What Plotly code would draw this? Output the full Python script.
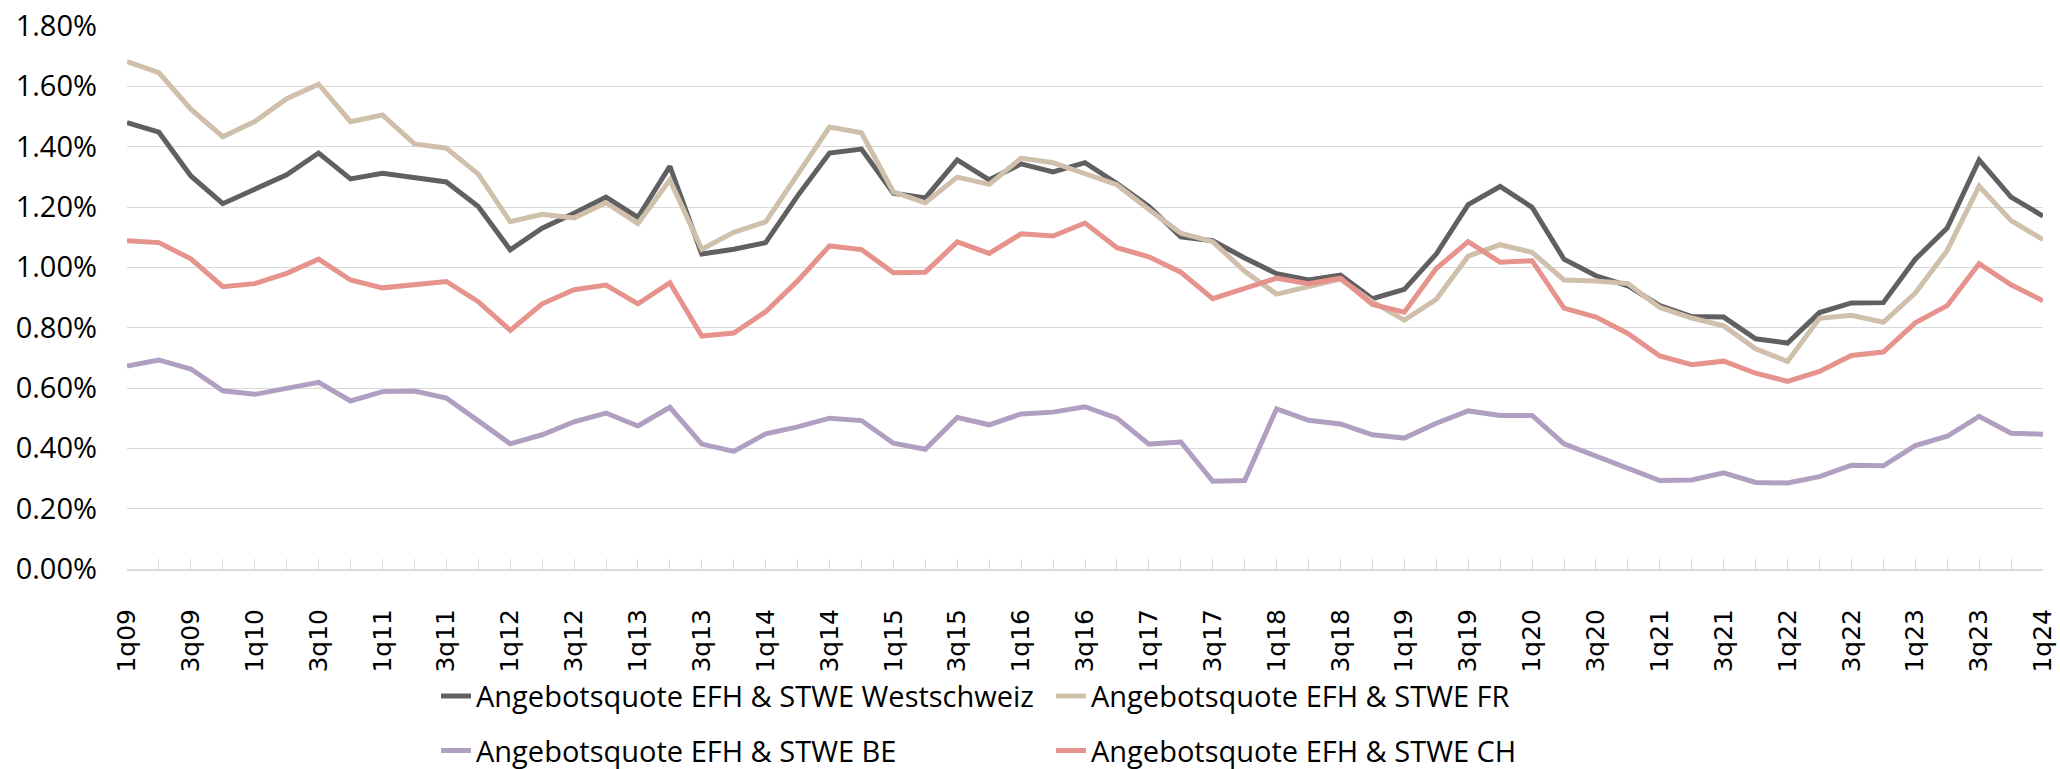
import plotly.graph_objects as go

quarters = []
for yr in range(9, 25):
    for q in range(1, 5):
        if yr == 24 and q > 1:
            break
        quarters.append(f"{q}q{yr:02d}")

tick_labels = [lab if lab[0] in "13" else "" for lab in quarters]

westschweiz = [1.480, 1.448, 1.303, 1.211, 1.259, 1.307, 1.379, 1.293, 1.312, 1.297,
               1.283, 1.202, 1.058, 1.130, 1.179, 1.233, 1.166, 1.335, 1.044, 1.060,
               1.082, 1.237, 1.379, 1.392, 1.246, 1.230, 1.356, 1.290, 1.343, 1.316,
               1.347, 1.278, 1.202, 1.101, 1.088, 1.031, 0.979, 0.958, 0.974, 0.896,
               0.927, 1.044, 1.208, 1.268, 1.199, 1.027, 0.972, 0.939, 0.873, 0.837,
               0.835, 0.763, 0.749, 0.850, 0.882, 0.883, 1.027, 1.130, 1.356, 1.233,
               1.170]

fr = [1.682, 1.645, 1.524, 1.433, 1.483, 1.559, 1.607, 1.483, 1.505, 1.409,
      1.395, 1.309, 1.151, 1.176, 1.164, 1.214, 1.145, 1.290, 1.060, 1.116,
      1.151, 1.306, 1.465, 1.446, 1.250, 1.214, 1.299, 1.275, 1.362, 1.347,
      1.309, 1.274, 1.192, 1.113, 1.085, 0.987, 0.911, 0.934, 0.961, 0.886,
      0.825, 0.894, 1.037, 1.075, 1.050, 0.958, 0.955, 0.946, 0.867, 0.832,
      0.806, 0.730, 0.688, 0.831, 0.841, 0.818, 0.915, 1.056, 1.269, 1.155,
      1.092]

be = [0.673, 0.693, 0.663, 0.591, 0.579, 0.597, 0.619, 0.557, 0.588, 0.590,
      0.567, 0.491, 0.415, 0.445, 0.488, 0.517, 0.474, 0.536, 0.414, 0.390,
      0.448, 0.471, 0.500, 0.492, 0.417, 0.397, 0.502, 0.478, 0.514, 0.520,
      0.538, 0.500, 0.414, 0.421, 0.291, 0.293, 0.531, 0.493, 0.481, 0.445,
      0.434, 0.483, 0.524, 0.509, 0.509, 0.415, 0.373, 0.331, 0.293, 0.295,
      0.319, 0.287, 0.285, 0.306, 0.344, 0.342, 0.409, 0.440, 0.506, 0.450,
      0.447]

ch = [1.088, 1.082, 1.028, 0.936, 0.946, 0.980, 1.027, 0.958, 0.932, 0.944,
      0.953, 0.886, 0.791, 0.879, 0.926, 0.941, 0.879, 0.949, 0.772, 0.782,
      0.853, 0.955, 1.071, 1.059, 0.982, 0.984, 1.084, 1.046, 1.111, 1.104,
      1.147, 1.065, 1.035, 0.984, 0.896, 0.930, 0.964, 0.946, 0.964, 0.877,
      0.851, 0.996, 1.085, 1.017, 1.022, 0.865, 0.835, 0.781, 0.706, 0.677,
      0.689, 0.649, 0.622, 0.655, 0.708, 0.719, 0.816, 0.873, 1.012, 0.942,
      0.889]

series = [
    ("Angebotsquote EFH & STWE Westschweiz", westschweiz, "#606060", "legend", "g1"),
    ("Angebotsquote EFH & STWE FR", fr, "#cfbfab", "legend2", "g2"),
    ("Angebotsquote EFH & STWE BE", be, "#b19fc1", "legend", "g3"),
    ("Angebotsquote EFH & STWE CH", ch, "#e6938d", "legend2", "g4"),
]

fig = go.Figure()
for name, vals, color, leg, grp in series:
    fig.add_trace(go.Scatter(
        x=quarters, y=vals, name=name, mode="lines",
        line=dict(color=color, width=5),
        legend=leg, legendgroup=grp,
    ))

legend_common = dict(
    orientation="v", xanchor="left", yanchor="top",
    font=dict(family="Open Sans", size=29, color="#000000"),
    bgcolor="rgba(0,0,0,0)", tracegroupgap=14, itemwidth=30,
)

fig.update_layout(
    width=2060, height=769,
    margin=dict(l=127, r=17, t=26, b=200, autoexpand=False),
    paper_bgcolor="white", plot_bgcolor="white",
    showlegend=True,
    legend=dict(x=(436 - 127) / 1916, y=-0.187, **legend_common),
    legend2=dict(x=(1051 - 127) / 1916, y=-0.187, **legend_common),
    xaxis=dict(
        type="category", range=[0, len(quarters) - 1],
        tickmode="array", tickvals=quarters, ticktext=tick_labels,
        tickangle=-90, ticks="inside", ticklen=10, tickwidth=1.3,
        tickcolor="#d9d9d9", showline=True, linecolor="#d9d9d9", linewidth=2,
        showgrid=False, ticklabelstandoff=28,
        tickfont=dict(family="DejaVu Sans", size=25, color="#000000"),
    ),
    yaxis=dict(
        range=[0, 1.8], tickmode="linear", tick0=0, dtick=0.2,
        tickformat=".2f", ticksuffix="%",
        showgrid=True, gridcolor="#d9d9d9", gridwidth=1.3,
        zeroline=False, showline=False, ticks="",
        ticklabelstandoff=29,
        tickfont=dict(family="Open Sans", size=29, color="#000000"),
    ),
)

fig.write_html("out.html", config={"displayModeBar": False},
               post_script="document.body.style.margin='0';")
